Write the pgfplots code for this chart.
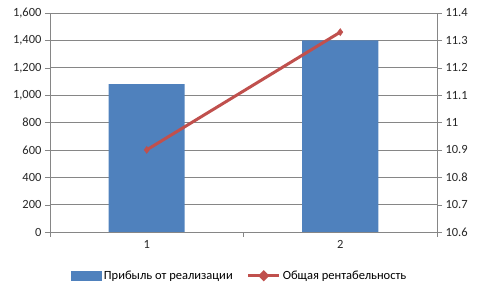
\documentclass[border=0pt]{standalone}
\usepackage{pgfplots}
\pgfplotsset{compat=1.18}
\usepackage{fontspec}
\setmainfont{Carlito}
\definecolor{barblue}{RGB}{79,129,189}
\definecolor{linered}{RGB}{192,80,77}
\definecolor{axgray}{RGB}{134,134,134}
\begin{document}
\begin{tikzpicture}[x=1pt,y=1pt]
\path[use as bounding box] (-50,-56) rectangle (430,232);
\pgfplotsset{
  common/.style={
    at={(0,0)}, anchor=south west,
    scale only axis, width=387pt, height=219pt,
    xmin=0.5, xmax=2.5,
    tick align=outside,
    major tick length=5pt, minor tick length=5pt,
    axis line style={axgray},
    tick style={axgray},
    every tick label/.append style={font=\fontsize{12.5}{14}\selectfont, text=black!85},
    /pgf/number format/assume math mode=true,
  }
}
\begin{axis}[common,
  axis x line*=bottom, axis y line*=left,
  ymin=0, ymax=1600,
  ytick={0,200,...,1600},
  /pgf/number format/.cd, 1000 sep={,}, /pgfplots/.cd,
  ymajorgrids, grid style={axgray, line width=0.6pt},
  xtick={1,2}, xticklabels={1,2},
  minor xtick={0.5,1.5,2.5},
  major x tick style={draw=none},
  ybar, bar width=76pt,
]
\addplot[fill=barblue, draw=none] coordinates {(1,1080) (2,1400)};
\end{axis}
\begin{axis}[common,
  axis x line=none, axis y line*=right,
  ymin=10.6, ymax=11.4,
  ytick={10.6,10.7,10.8,10.9,11,11.1,11.2,11.3,11.4},
  yticklabels={10.6,10.7,10.8,10.9,11,11.1,11.2,11.3,11.4},
  legend style={at={(0.49,-0.2)}, anchor=center, draw=none, fill=none,
    font=\fontsize{12.5}{14}\selectfont, legend columns=2,
    /tikz/every even column/.append style={column sep=12pt}},
]
\addlegendimage{barblue, fill=barblue, draw=none, legend image code/.code={\fill[barblue] (0pt,-5pt) rectangle (31pt,5pt);}}
\addlegendentry{Прибыль от реализации}
\addplot[linered, line width=3pt, mark=diamond*, mark size=3.5pt,
  mark options={fill=linered, line width=0.5pt},
  legend image code/.code={\draw[linered, line width=3pt] (0pt,0pt)--(31pt,0pt); \fill[linered] (15.5pt,0pt) +(-3.5pt,0) -- +(0,3.5pt) -- +(3.5pt,0) -- +(0,-3.5pt) -- cycle;}]
  coordinates {(1,10.9) (2,11.33)};
\addlegendentry{Общая рентабельность}
\end{axis}
\end{tikzpicture}
\end{document}
